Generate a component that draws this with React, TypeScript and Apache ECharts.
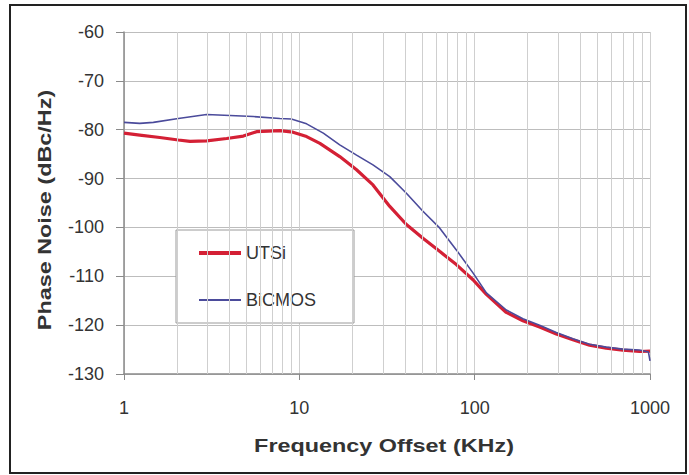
import React, { useEffect, useRef } from "react";
import * as echarts from "echarts";

const utsiFreq = [1, 1.23, 1.6, 2.04, 2.38, 2.96, 3.85, 4.79, 5.7, 7.74, 9.2, 11, 13.1, 17, 21.2, 26.3, 32.8, 40.8, 50.7, 63.1, 78.6, 97.8, 116.6, 151.5, 188.4, 234.6, 292.2, 363.3, 452, 562.6, 700, 871, 1000];
const utsiValues = [-80.7, -81.1, -81.6, -82.1, -82.4, -82.3, -81.8, -81.3, -80.4, -80.2, -80.5, -81.4, -82.8, -85.5, -88.2, -91.3, -95.7, -99.4, -102.2, -104.9, -107.6, -110.7, -113.7, -117.4, -119.1, -120.4, -121.8, -123.0, -124.1, -124.7, -125.1, -125.4, -125.3];

const bicmosFreq = [1, 1.23, 1.47, 2.04, 2.96, 4.02, 5.46, 7.74, 9.0, 11.0, 13.7, 17, 21.2, 26.3, 32.8, 40.8, 50.7, 63.1, 78.6, 97.8, 116.6, 151.5, 188.4, 234.6, 292.2, 363.3, 452, 562.6, 700, 871, 980, 1000];
const bicmosValues = [-78.5, -78.7, -78.5, -77.7, -76.9, -77.1, -77.3, -77.7, -77.8, -78.8, -80.7, -83.1, -85.2, -87.2, -89.6, -93.0, -96.7, -100.1, -104.6, -109.3, -113.4, -116.9, -118.7, -120.0, -121.5, -122.8, -123.9, -124.5, -124.9, -125.1, -125.5, -127.3];

const minorGridX = [2, 3, 4, 5, 6, 7, 8, 9, 20, 30, 40, 50, 60, 70, 80, 90, 200, 300, 400, 500, 600, 700, 800, 900];

const seriesNames = ["UTSi", "BiCMOS"];
const xTitle = "Frequency Offset (KHz)";
const yTitle = "Phase Noise (dBc/Hz)";

const FONT = '"Liberation Sans", Arial, sans-serif';
const RED = "#d42035";
const BLUE = "#4b4b9b";

export default function App() {
  const ref = useRef<HTMLDivElement>(null);
  useEffect(() => {
    if (!ref.current) return;
    const chart = echarts.init(ref.current, undefined, { renderer: "svg" });
    const utsi = utsiFreq.map((f, i) => [f, utsiValues[i]]);
    const bicmos = bicmosFreq.map((f, i) => [f, bicmosValues[i]]);
    chart.setOption({
      animation: false,
      backgroundColor: "#ffffff",
      grid: { left: 124, right: 39, top: 32, bottom: 101 },
      xAxis: {
        type: "log",
        logBase: 10,
        min: 1,
        max: 1000,
        axisLine: { show: true, lineStyle: { color: "#8a8a8a", width: 1.5 } },
        axisTick: { show: true, length: 6, lineStyle: { color: "#8a8a8a" } },
        axisLabel: {
          margin: 25,
          fontFamily: FONT,
          fontSize: 18,
          color: "#333333",
          formatter: (v: number) => String(Math.round(v)),
        },
        splitLine: { show: true, lineStyle: { color: "#cfcfcf", width: 1 } },
        minorTick: { show: false },
      },
      yAxis: {
        type: "value",
        min: -130,
        max: -60,
        interval: 10,
        axisLine: { show: true, lineStyle: { color: "#8a8a8a", width: 1.5 } },
        axisTick: { show: true, length: 8, lineStyle: { color: "#8a8a8a" } },
        axisLabel: { margin: 20, fontFamily: FONT, fontSize: 18, color: "#333333" },
        splitLine: { show: true, lineStyle: { color: "#bdbdbd", width: 1 } },
      },
      legend: {
        orient: "vertical",
        left: 176,
        top: 230,
        data: [
          { name: seriesNames[0], lineStyle: { width: 4, color: RED } },
          { name: seriesNames[1], lineStyle: { width: 2, color: BLUE } },
        ],
        backgroundColor: "#ffffff",
        borderColor: "#9a9a9a",
        borderWidth: 1,
        padding: [13, 19, 13, 21],
        itemGap: 27,
        itemWidth: 42,
        itemHeight: 14,
        itemStyle: { opacity: 0 },
        textStyle: { fontFamily: FONT, fontSize: 18, color: "#333333", width: 89, lineHeight: 20 },
      },
      graphic: [
        {
          type: "rect",
          shape: { x: 10, y: 5, width: 676, height: 468 },
          style: { fill: "none", stroke: "#222222", lineWidth: 2 },
          silent: true,
        },
        {
          type: "text",
          x: 45,
          y: 210,
          rotation: Math.PI / 2,
          scaleX: 1.3,
          style: {
            text: yTitle,
            font: 'bold 18px "Liberation Sans", Arial, sans-serif',
            fill: "#333333",
            align: "center",
            verticalAlign: "middle",
          },
        },
        {
          type: "text",
          x: 384,
          y: 446,
          scaleX: 1.3,
          style: {
            text: xTitle,
            font: 'bold 18px "Liberation Sans", Arial, sans-serif',
            fill: "#333333",
            align: "center",
            verticalAlign: "middle",
          },
        },
      ],
      series: [
        {
          name: "minor-grid",
          type: "line",
          data: [],
          silent: true,
          z: 1,
          markLine: {
            silent: true,
            symbol: "none",
            label: { show: false },
            lineStyle: { color: "#cfcfcf", width: 1, type: "solid" },
            data: minorGridX.map((v) => ({ xAxis: v })),
          },
        },
        {
          name: seriesNames[0],
          type: "line",
          data: utsi,
          showSymbol: false,
          symbol: "none",
          z: 3,
          lineStyle: { color: RED, width: 3.2 },
          itemStyle: { color: RED },
        },
        {
          name: seriesNames[1],
          type: "line",
          data: bicmos,
          showSymbol: false,
          symbol: "none",
          z: 4,
          lineStyle: { color: BLUE, width: 1.6 },
          itemStyle: { color: BLUE },
        },
      ],
    });
    return () => chart.dispose();
  }, []);
  return (
    <div
      ref={ref}
      style={{ position: "fixed", left: 0, top: 0, width: 689, height: 475 }}
    />
  );
}
